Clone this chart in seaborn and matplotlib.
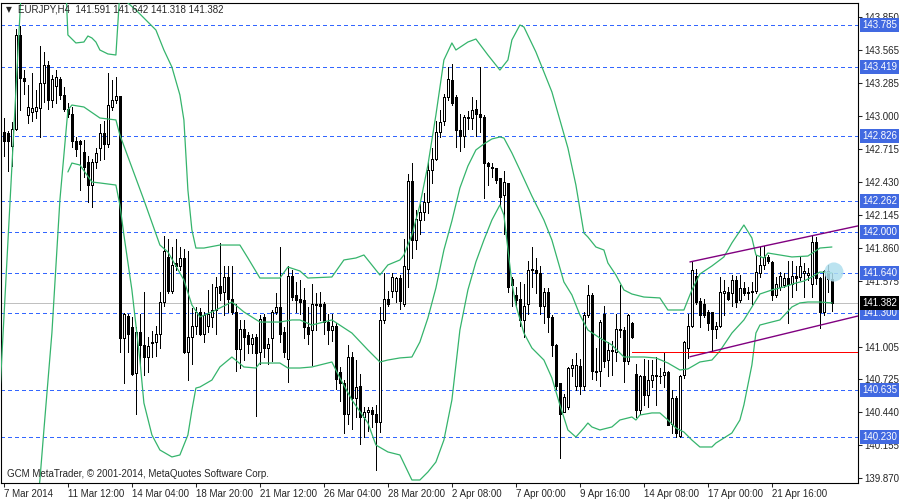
import matplotlib
matplotlib.use("Agg")
import matplotlib.pyplot as plt
import numpy as np
import seaborn as sns

# EURJPY H4 candles (oldest first)
opens = [142.86, 142.85, 142.74, 142.89, 143.70, 143.33, 143.01, 143.03, 143.04, 143.07,
         143.28, 143.44, 143.14, 143.26, 143.32, 143.18, 143.06, 143.02, 142.78, 142.78,
         142.69, 142.60, 142.40, 142.60, 142.72, 142.85, 142.76, 143.08, 143.14, 143.17,
         141.08, 141.27, 141.18, 140.78, 141.13, 141.02, 140.92, 141.04, 141.05, 141.12,
         141.39, 141.78, 141.49, 141.73, 141.70, 141.77, 140.96, 141.09, 141.19, 141.31,
         141.12, 141.19, 141.26, 141.32, 141.53, 141.48, 141.61, 141.42, 141.31, 140.99,
         141.16, 141.11, 141.03, 141.09, 140.96, 141.26, 141.00, 141.08, 141.31, 141.35,
         141.13, 140.90, 141.62, 141.45, 141.42, 141.41, 141.18, 141.15, 141.38, 141.38,
         141.38, 141.22, 141.15, 141.19, 140.79, 140.69, 140.43, 140.92, 140.56, 140.67,
         140.40, 140.44, 140.46, 140.43, 140.36, 141.24, 141.42, 141.49, 141.49, 141.60,
         141.38, 141.68, 142.44, 141.93, 142.10, 142.17, 142.26, 142.53, 142.63, 142.86,
         142.96, 143.16, 143.31, 143.16, 142.88, 142.83, 142.99, 142.98, 143.06, 143.02,
         142.99, 142.59, 142.56, 142.55, 142.46, 142.32, 142.42, 141.59, 141.45, 141.42,
         141.24, 141.38, 141.67, 141.67, 141.64, 141.36, 141.48, 141.26, 141.02, 140.69,
         140.44, 140.49, 140.82, 140.67, 140.84, 140.67, 141.28, 141.45, 140.80, 140.80,
         141.29, 140.89, 140.98, 140.96, 141.16, 141.15, 140.88, 141.21, 140.77, 140.46,
         140.75, 140.59, 140.72, 140.76, 140.75, 140.76, 140.79, 140.34, 140.56, 140.24,
         140.76, 141.00, 141.19, 141.62, 141.40, 141.38, 141.31, 141.31, 141.16, 141.19,
         141.47, 141.48, 141.47, 141.58, 141.41, 141.51, 141.47, 141.49, 141.49, 141.64,
         141.71, 141.78, 141.74, 141.45, 141.52, 141.54, 141.60, 141.55, 141.62, 141.61,
         141.64, 141.63, 141.55, 141.91, 141.60, 141.31, 141.66, 141.591]
highs = [142.98, 142.87, 142.95, 143.75, 143.78, 143.40, 143.27, 143.37, 143.22, 143.60,
         143.55, 143.47, 143.35, 143.40, 143.34, 143.25, 143.11, 143.08, 142.82, 142.79,
         142.79, 142.65, 142.63, 142.72, 142.93, 142.96, 143.37, 143.31, 143.34, 143.17,
         141.30, 141.29, 141.26, 141.18, 141.29, 141.48, 141.09, 141.14, 141.19, 141.48,
         141.96, 141.94, 141.87, 141.94, 141.87, 141.85, 141.83, 141.34, 141.35, 141.34,
         141.31, 141.50, 141.55, 141.61, 141.90, 141.70, 141.70, 141.70, 141.38, 141.24,
         141.24, 141.13, 141.12, 141.12, 141.28, 141.29, 141.08, 141.32, 141.47, 141.87,
         141.18, 141.70, 141.67, 141.57, 141.58, 141.51, 141.35, 141.55, 141.47, 141.48,
         141.39, 141.29, 141.29, 141.21, 140.83, 140.72, 141.02, 140.96, 140.89, 140.77,
         140.49, 140.49, 140.49, 140.50, 141.35, 141.64, 141.49, 141.64, 141.61, 141.63,
         141.94, 142.50, 142.59, 142.19, 142.24, 142.33, 142.62, 142.72, 142.96, 143.05,
         143.19, 143.42, 143.45, 143.18, 143.02, 143.01, 143.04, 143.16, 143.14, 143.42,
         143.01, 142.60, 142.59, 142.55, 142.46, 142.52, 142.42, 141.61, 141.52, 141.57,
         141.55, 141.75, 141.87, 141.77, 141.70, 141.51, 141.51, 141.28, 141.03, 140.69,
         140.60, 140.83, 140.90, 140.95, 140.90, 141.31, 141.54, 141.47, 141.00, 141.24,
         141.36, 141.05, 141.06, 141.29, 141.54, 141.18, 141.29, 141.22, 140.86, 140.76,
         140.90, 140.89, 140.89, 140.92, 140.82, 140.95, 140.80, 140.63, 140.58, 140.76,
         141.06, 141.29, 141.74, 141.68, 141.43, 141.42, 141.32, 141.31, 141.22, 141.61,
         141.58, 141.52, 141.63, 141.62, 141.63, 141.57, 141.52, 141.57, 141.80, 141.87,
         141.88, 141.80, 141.75, 141.61, 141.65, 141.64, 141.75, 141.75, 141.70, 141.78,
         141.73, 141.69, 141.97, 141.95, 141.61, 141.67, 141.71, 141.642]
lows = [142.65, 142.52, 142.57, 142.88, 143.05, 143.19, 142.94, 142.96, 142.98, 142.82,
        143.12, 143.06, 143.08, 143.11, 143.15, 143.04, 142.99, 142.73, 142.65, 142.36,
        142.47, 142.26, 142.21, 142.55, 142.62, 142.63, 142.73, 143.05, 143.11, 140.96,
        140.69, 140.96, 140.76, 140.43, 140.86, 140.76, 140.79, 140.92, 140.93, 141.00,
        141.36, 141.47, 141.47, 141.67, 141.67, 140.95, 140.72, 140.86, 141.12, 141.11,
        141.05, 141.13, 141.18, 141.12, 141.41, 141.28, 141.31, 141.29, 140.80, 140.82,
        140.89, 140.95, 140.95, 140.41, 140.86, 140.92, 140.86, 140.88, 141.29, 141.05,
        140.92, 140.70, 141.41, 141.31, 141.29, 141.08, 141.03, 140.85, 141.15, 141.24,
        141.12, 141.03, 141.06, 140.64, 140.54, 140.26, 140.34, 140.30, 140.40, 140.17,
        140.23, 140.28, 140.31, 139.94, 140.27, 141.21, 141.36, 141.44, 141.39, 141.33,
        141.36, 141.52, 141.77, 141.85, 141.98, 142.10, 142.16, 142.42, 142.62, 142.82,
        142.92, 143.14, 143.09, 142.73, 142.70, 142.73, 142.89, 142.89, 142.83, 142.86,
        142.29, 142.40, 142.47, 142.42, 142.23, 141.98, 141.48, 141.36, 141.35, 141.19,
        141.09, 141.29, 141.52, 141.47, 141.29, 141.21, 141.13, 140.93, 140.64, 140.05,
        140.44, 140.47, 140.75, 140.63, 140.60, 140.63, 141.26, 140.73, 140.72, 140.67,
        140.83, 140.75, 140.76, 140.88, 141.09, 140.70, 140.86, 141.08, 140.40, 140.43,
        140.50, 140.49, 140.66, 140.50, 140.69, 140.66, 140.33, 140.26, 140.23, 140.23,
        140.74, 140.91, 141.18, 141.38, 141.18, 141.26, 141.15, 140.96, 141.08, 141.18,
        141.28, 141.41, 141.36, 141.35, 141.39, 141.45, 141.42, 141.38, 141.47, 141.61,
        141.68, 141.73, 141.41, 141.44, 141.50, 141.52, 141.21, 141.44, 141.50, 141.58,
        141.44, 141.58, 141.44, 141.55, 141.17, 141.28, 141.48, 141.318]
closes = [142.78, 142.78, 142.89, 143.70, 143.33, 143.30, 143.08, 143.07, 143.08, 143.28,
          143.44, 143.14, 143.32, 143.34, 143.18, 143.06, 143.02, 142.78, 142.71, 142.76,
          142.56, 142.40, 142.60, 142.68, 142.85, 142.76, 143.09, 143.14, 143.17, 141.08,
          141.29, 141.12, 140.77, 141.13, 141.02, 140.92, 141.01, 141.05, 141.12, 141.39,
          141.83, 141.49, 141.71, 141.70, 141.77, 140.96, 141.09, 141.19, 141.31, 141.12,
          141.28, 141.29, 141.32, 141.52, 141.47, 141.61, 141.42, 141.31, 140.99, 141.16,
          141.09, 141.03, 141.08, 140.95, 141.25, 141.00, 141.03, 141.31, 141.35, 141.12,
          140.96, 141.62, 141.44, 141.41, 141.39, 141.18, 141.12, 141.38, 141.37, 141.36,
          141.22, 141.15, 141.19, 140.73, 140.69, 140.43, 140.92, 140.56, 140.66, 140.40,
          140.44, 140.46, 140.43, 140.36, 141.24, 141.42, 141.38, 141.61, 141.60, 141.40,
          141.70, 142.44, 141.93, 142.11, 142.17, 142.26, 142.53, 142.63, 142.86, 142.95,
          143.16, 143.32, 143.11, 142.88, 142.83, 142.99, 142.98, 143.05, 143.02, 142.99,
          142.59, 142.57, 142.55, 142.45, 142.30, 142.43, 141.52, 141.54, 141.41, 141.24,
          141.36, 141.67, 141.68, 141.64, 141.36, 141.48, 141.26, 141.02, 140.67, 140.43,
          140.57, 140.82, 140.85, 140.85, 140.67, 141.28, 141.45, 140.80, 140.79, 141.22,
          140.88, 140.98, 140.97, 141.16, 141.15, 140.88, 141.28, 141.09, 140.46, 140.75,
          140.59, 140.72, 140.76, 140.75, 140.75, 140.79, 140.33, 140.56, 140.26, 140.75,
          141.05, 141.19, 141.67, 141.39, 141.28, 141.28, 141.21, 141.16, 141.19, 141.48,
          141.49, 141.42, 141.58, 141.39, 141.51, 141.47, 141.48, 141.48, 141.65, 141.71,
          141.78, 141.75, 141.45, 141.55, 141.62, 141.60, 141.55, 141.62, 141.60, 141.70,
          141.66, 141.64, 141.91, 141.60, 141.31, 141.66, 141.59, 141.382]

# Bollinger bands, sampled at the bars where they were read
upper_bars = [-1, 0, 4, 5, 15, 16, 18, 20, 21, 22, 23, 24, 26, 28, 29, 30, 31, 33, 36, 38, 40,
              42, 44, 45, 46, 47, 48, 50, 54, 59, 61, 64, 69, 71, 74, 76, 82, 85, 88, 90, 94,
              96, 99, 100, 102, 104, 106, 108, 110, 112, 113, 116, 118, 121, 124, 126, 127, 129, 130, 133, 134,
              137, 139, 141, 143, 145, 146, 148, 150, 151, 153, 155, 157, 160, 164, 166, 170, 172, 174, 177, 180,
              182, 185, 187, 188, 190, 191, 194, 197, 201, 204, 207]
upper_band = [140.60, 141.255, 143.871, 144.52, 144.52, 143.699, 143.630, 143.638, 143.690, 143.673, 143.638,
              143.569, 143.535, 143.526, 144.079, 144.087, 143.975, 143.915, 143.811, 143.742, 143.569,
              143.422, 143.181, 142.965, 142.360, 142.015, 141.859, 141.859, 141.885, 141.885, 141.773,
              141.600, 141.600, 141.695, 141.661, 141.600, 141.609, 141.756, 141.773, 141.799, 141.626,
              141.713, 141.756, 141.799, 141.972, 142.231, 142.576, 143.008, 143.483, 143.630, 143.569,
              143.638, 143.664, 143.526, 143.396, 143.483, 143.656, 143.785, 143.768, 143.552, 143.466,
              143.207, 142.965, 142.723, 142.403, 141.989, 141.954, 141.868, 141.842, 141.730, 141.626,
              141.497, 141.462, 141.436, 141.428, 141.324, 141.324, 141.497, 141.635, 141.704, 141.782,
              141.903, 142.058, 141.946, 141.799, 141.773, 141.816, 141.799, 141.782, 141.790, 141.859,
              141.868]
middle_bars = [8, 9, 10, 12, 14, 16, 17, 20, 24, 28, 29, 35, 39, 41, 45, 47, 49, 52, 57, 60,
               64, 69, 72, 74, 77, 82, 87, 91, 94, 96, 99, 102, 104, 106, 108, 110, 112, 114, 116, 118,
               120, 122, 124, 125, 127, 129, 132, 135, 137, 140, 142, 144, 146, 149, 152, 155, 160, 163, 166, 169,
               171, 174, 177, 179, 182, 185, 187, 189, 192, 195, 198, 200, 202, 204, 207]
middle_band = [139.51, 139.856, 140.288, 141.125, 142.274, 143.051, 143.094, 143.077, 142.982, 142.965,
               142.835, 142.274, 141.885, 141.825, 141.583, 141.367, 141.264, 141.307, 141.393, 141.307,
               141.220, 141.220, 141.238, 141.238, 141.194, 141.238, 141.125, 140.979, 140.875, 140.892,
               140.910, 140.918, 141.048, 141.255, 141.514, 141.842, 142.093, 142.378, 142.567, 142.706,
               142.758, 142.801, 142.818, 142.809, 142.680, 142.533, 142.308, 142.101, 141.928, 141.566,
               141.454, 141.281, 141.151, 141.082, 141.022, 140.918, 140.918, 140.910, 140.866, 140.806,
               140.815, 140.875, 140.892, 140.970, 141.125, 141.238, 141.350, 141.462, 141.497, 141.523,
               141.557, 141.574, 141.609, 141.652, 141.644]
lower_bars = [16, 17, 19, 22, 24, 28, 29, 30, 32, 34, 35, 37, 39, 42, 44, 46, 47, 48, 49, 52,
              54, 57, 60, 63, 64, 69, 71, 74, 77, 82, 84, 87, 91, 93, 96, 99, 102, 104, 106, 108,
              110, 112, 114, 116, 118, 120, 122, 124, 125, 127, 128, 130, 132, 135, 137, 139, 141, 143, 145, 146,
              147, 149, 152, 154, 157, 158, 159, 162, 164, 166, 168, 170, 172, 174, 177, 178, 182, 184, 185, 187,
              188, 189, 191, 194, 197, 199, 201, 204, 207]
lower_band = [142.516, 142.593, 142.576, 142.429, 142.421, 142.403, 142.231, 141.972, 141.497, 140.892,
              140.521, 140.245, 140.115, 140.055, 140.072, 140.245, 140.460, 140.650, 140.659, 140.719,
              140.832, 140.918, 140.832, 140.823, 140.866, 140.866, 140.823, 140.823, 140.832, 140.875,
              140.737, 140.547, 140.348, 140.158, 140.098, 140.072, 139.856, 139.856, 139.925, 140.011,
              140.201, 140.547, 141.151, 141.497, 141.739, 141.928, 142.101, 142.231, 142.144, 141.557,
              141.367, 141.125, 140.996, 140.892, 140.737, 140.504, 140.288, 140.227, 140.305, 140.348,
              140.314, 140.288, 140.314, 140.374, 140.400, 140.374, 140.417, 140.435, 140.435, 140.374,
              140.305, 140.270, 140.201, 140.141, 140.141, 140.175, 140.262, 140.374, 140.504, 140.849,
              141.125, 141.194, 141.212, 141.238, 141.350, 141.385, 141.393, 141.393, 141.385]

level_prices = [143.785, 143.419, 142.826, 142.262, 142.000, 141.640, 141.300, 140.635, 140.230]
axis_prices = [143.850, 143.565, 143.285, 143.000, 142.715, 142.430, 142.145, 141.860,
               141.575, 141.005, 140.725, 140.440, 140.155, 139.870]
bid_price = 141.382
support_price = 140.96
support_bars = [157, 213.5]
channel_bars = [171.5, 213.5]
channel_top = [141.739, 142.05]
channel_bottom = [140.92, 141.272]
marker_bar = [207.5]
marker_price = [141.652]

date_bars = [0, 16, 32, 48, 64, 80, 96, 112, 128, 144, 160, 176, 192]
date_labels = ["7 Mar 2014", "11 Mar 12:00", "14 Mar 04:00", "18 Mar 20:00", "21 Mar 12:00",
               "26 Mar 04:00", "28 Mar 20:00", "2 Apr 08:00", "7 Apr 00:00", "9 Apr 16:00",
               "14 Apr 08:00", "17 Apr 00:00", "21 Apr 16:00"]

sns.set_style("white")
plt.rcParams["font.family"] = ["Liberation Sans", "DejaVu Sans"]

fig = plt.figure(figsize=(9, 5), dpi=100)
ax = fig.add_axes([0.001, 17 / 500, 857 / 900, 480 / 500])

px = 0.72  # one pixel in points
o = np.array(opens)
c = np.array(closes)
idx = np.arange(len(o))
ax.vlines(idx, lows, highs, color="black", linewidth=px, zorder=2, antialiased=False)
body_lo = np.minimum(o, c)
body_h = np.maximum(np.abs(c - o), 0.004)
up = c >= o
ax.bar(idx[up], body_h[up], bottom=body_lo[up], width=0.6, facecolor="white",
       edgecolor="black", linewidth=px, zorder=3, antialiased=False)
ax.bar(idx[~up], body_h[~up], bottom=body_lo[~up], width=0.6, facecolor="black",
       edgecolor="black", linewidth=px, zorder=3, antialiased=False)

green = "#35b46c"
for bx, by in [(upper_bars, upper_band), (middle_bars, middle_band), (lower_bars, lower_band)]:
    sns.lineplot(x=bx, y=by, color=green, linewidth=0.9, ax=ax, zorder=4)

blue = "#3366ff"
for p in level_prices:
    ax.axhline(p, color=blue, linewidth=px, dashes=(4, 3), zorder=1, antialiased=False)
ax.axhline(bid_price, color="#c0c0c0", linewidth=px, zorder=1, antialiased=False)
ax.plot(support_bars, [support_price, support_price], color="red", linewidth=px, zorder=4,
        antialiased=False)
ax.plot(channel_bars, channel_top, color="#800080", linewidth=1.0, zorder=4)
ax.plot(channel_bars, channel_bottom, color="#800080", linewidth=1.0, zorder=4)
sns.scatterplot(x=marker_bar, y=marker_price, s=190, color="#b0dfee", edgecolor="none",
                alpha=0.85, ax=ax, zorder=5)

ax.set_xlim(-0.75, 213.5)
ax.set_ylim(139.83, 143.975)

ax.set_xticks(date_bars)
ax.set_xticklabels(date_labels, ha="left", fontsize=7)
ax.yaxis.tick_right()
ax.set_yticks(axis_prices)
ax.set_yticklabels([f"{p:.3f}" for p in axis_prices], fontsize=7)
ax.tick_params(axis="x", bottom=True, direction="out", length=3, width=0.75, pad=1)
ax.tick_params(axis="y", right=True, left=False, labelright=True, labelleft=False,
               direction="out", length=3, width=0.75, pad=1.5)
ax.set_xlabel("")
ax.set_ylabel("")
for s in ax.spines.values():
    s.set_visible(True)
    s.set_color("black")
    s.set_linewidth(0.8)

for p in level_prices:
    ax.annotate(f"{p:.3f}", xy=(1, p), xycoords=("axes fraction", "data"), xytext=(4, 0),
                textcoords="offset pixels", ha="left", va="center", fontsize=7, color="white",
                bbox=dict(boxstyle="square,pad=0.2", fc="#4169e1", ec="none"),
                annotation_clip=False, zorder=6)
ax.annotate(f"{bid_price:.3f}", xy=(1, bid_price), xycoords=("axes fraction", "data"), xytext=(4, 0),
            textcoords="offset pixels", ha="left", va="center", fontsize=7, color="white",
            bbox=dict(boxstyle="square,pad=0.2", fc="black", ec="none"),
            annotation_clip=False, zorder=6)

fig.text(6 / 900, 1 - 10 / 500, "\u25bc", fontsize=5.5, va="center", family="DejaVu Sans")
fig.text(18 / 900, 1 - 10 / 500, "EURJPY,H4  141.591 141.642 141.318 141.382", fontsize=7, va="center")
fig.text(7 / 900, 1 - 474 / 500, "GCM MetaTrader, \u00a9 2001-2014, MetaQuotes Software Corp.",
         fontsize=7, va="center")

fig.savefig("out.png", dpi=100)
plt.close(fig)
